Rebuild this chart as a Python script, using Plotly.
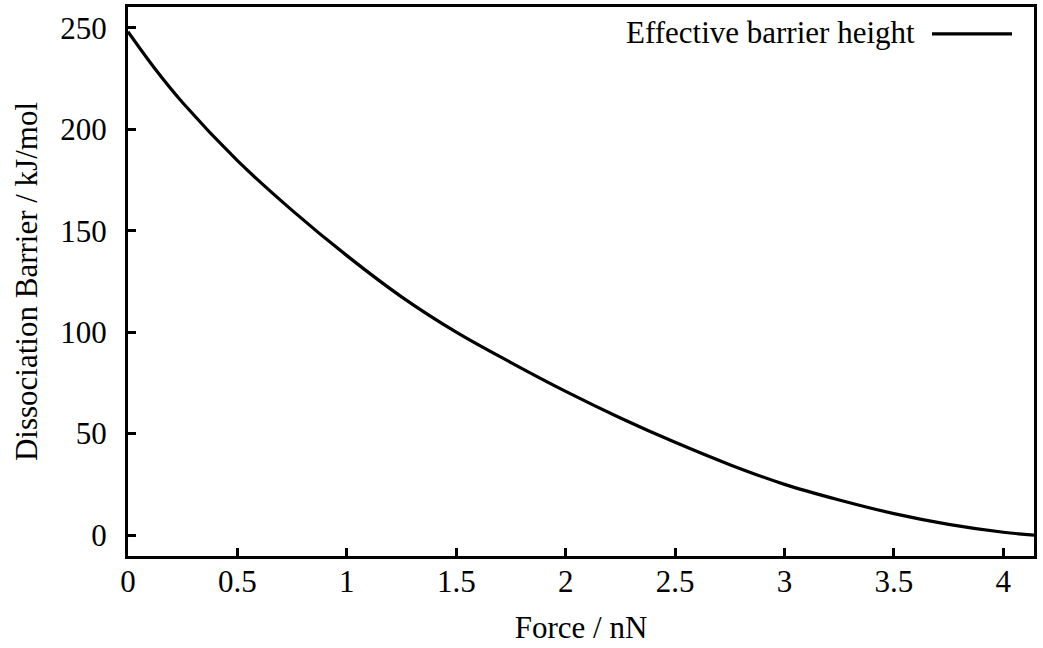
import plotly.graph_objects as go

# Force (nN) and effective dissociation barrier (kJ/mol)
force = [0.0, 0.125, 0.25, 0.5, 0.75, 1.0, 1.25, 1.5, 1.75, 2.0, 2.25, 2.5,
         2.75, 3.0, 3.25, 3.5, 3.75, 4.0, 4.14]
barrier = [248.0, 229.5, 213.0, 184.5, 160.0, 137.7, 117.4, 100.0, 85.0, 70.8,
           57.7, 45.7, 34.7, 25.0, 17.3, 10.6, 5.3, 1.4, 0.0]

x_ticks = [0, 0.5, 1, 1.5, 2, 2.5, 3, 3.5, 4]
x_tick_labels = ["0", "0.5", "1", "1.5", "2", "2.5", "3", "3.5", "4"]
y_ticks = [0, 50, 100, 150, 200, 250]
y_tick_labels = ["0", "50", "100", "150", "200", "250"]

series_name = "Effective barrier height"
FONT = "Liberation Serif"
FS = 31

fig = go.Figure()
fig.add_trace(go.Scatter(
    x=force, y=barrier, mode="lines", name=series_name,
    line=dict(color="black", width=3.2, shape="spline", smoothing=1.0),
    showlegend=False,
))

axis_common = dict(
    showline=True, linecolor="black", linewidth=3, mirror=True,
    ticks="inside", ticklen=8, tickwidth=2.5, tickcolor="black",
    showgrid=False, zeroline=False,
    tickfont=dict(family=FONT, size=FS, color="black"),
)

fig.update_layout(
    width=1043, height=648,
    margin=dict(l=128, r=9, t=4, b=92),
    paper_bgcolor="white", plot_bgcolor="white",
    font=dict(family=FONT, size=FS, color="black"),
    xaxis=dict(range=[0, 4.14], tickvals=x_ticks, ticktext=x_tick_labels,
               title=dict(text="Force / nN", font=dict(family=FONT, size=FS), standoff=19),
               ticklabelstandoff=-4,
               **axis_common),
    yaxis=dict(range=[-10.3, 260.2], tickvals=y_ticks, ticktext=y_tick_labels,
               title=dict(text="Dissociation Barrier / kJ/mol", font=dict(family=FONT, size=FS), standoff=14),
               ticklabelstandoff=12,
               **axis_common),
)

# Legend drawn gnuplot-style: text on the left, line sample on the right
fig.add_annotation(
    xref="paper", yref="paper", x=(917 - 128) / 906, y=1 - (30 - 4) / 552,
    xanchor="right", yanchor="middle", showarrow=False,
    text=series_name, font=dict(family=FONT, size=FS, color="black"),
)
fig.add_shape(
    type="line", xref="paper", yref="paper",
    x0=(932 - 128) / 906, x1=(1012 - 128) / 906,
    y0=1 - (31 - 4) / 552, y1=1 - (31 - 4) / 552,
    line=dict(color="black", width=3.2),
)

fig.write_html("out.html")
